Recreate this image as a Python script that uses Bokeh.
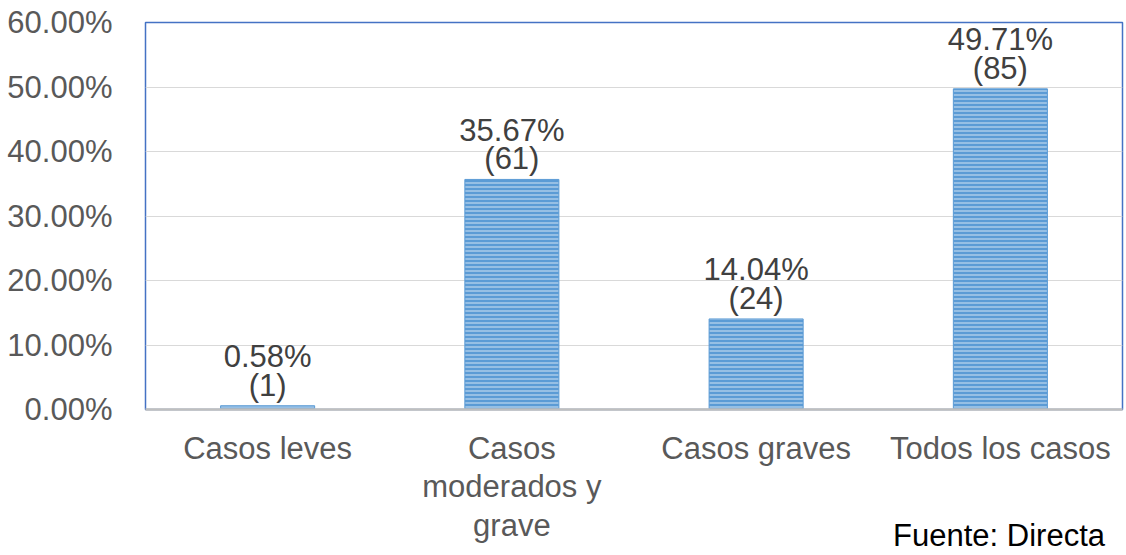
from bokeh.plotting import figure
from bokeh.models import ColumnDataSource, FixedTicker, NumeralTickFormatter, Div
from bokeh.layouts import column
from bokeh.embed import file_html
from bokeh.resources import INLINE
from bokeh.core.properties import value

categories = ["Casos leves", "Casos\nmoderados y\ngrave", "Casos graves", "Todos los casos"]
percentages = [0.0058, 0.3567, 0.1404, 0.4971]
counts = [1, 61, 24, 85]
y_ticks = [0.0, 0.1, 0.2, 0.3, 0.4, 0.5, 0.6]
source_note = "Fuente: Directa"

labels = [f"{p*100:.2f}%\n({c})" for p, c in zip(percentages, counts)]
src = ColumnDataSource(dict(cat=categories, val=percentages, lab=labels))

FONT = "Liberation Sans"
TXT = "#595959"
FS = "31px"

p = figure(x_range=categories, y_range=(0, 0.6), width=1126, height=555,
           output_backend="svg", toolbar_location=None,
           min_border_left=145, min_border_right=4, min_border_top=22, min_border_bottom=146)
p.outline_line_color = "#4472c4"
p.outline_line_width = 1.5
p.background_fill_color = "white"
p.border_fill_color = "white"

p.vbar(x="cat", top="val", width=0.385, source=src, fill_color="#5b9bd5",
       line_color="#5b9bd5", line_width=1,
       hatch_pattern="horizontal_line", hatch_color="white", hatch_alpha=0.6,
       hatch_scale=4, hatch_weight=1.2)

p.text(x="cat", y="val", text="lab", source=src, text_align="center", text_baseline="bottom",
       y_offset=-3, text_font=value(FONT), text_font_size=FS, text_color="#404040",
       text_line_height=0.82)

p.xgrid.grid_line_color = None
p.ygrid.grid_line_color = "#d9d9d9"
p.ygrid.grid_line_width = 1

p.yaxis.ticker = FixedTicker(ticks=y_ticks)
p.yaxis.formatter = NumeralTickFormatter(format="0.00%")
p.yaxis.axis_line_color = None
p.yaxis.major_tick_line_color = None
p.yaxis.minor_tick_line_color = None
p.yaxis.major_label_standoff = 27
p.yaxis.major_label_text_font = FONT
p.yaxis.major_label_text_font_size = FS
p.yaxis.major_label_text_color = TXT

p.xaxis.axis_line_color = "#bfbfbf"
p.xaxis.axis_line_width = 2.5
p.xaxis.major_tick_line_color = None
p.xaxis.minor_tick_line_color = None
p.xaxis.major_label_standoff = 15
p.xaxis.major_label_text_font = FONT
p.xaxis.major_label_text_font_size = FS
p.xaxis.major_label_text_color = TXT
p.xaxis.major_label_text_line_height = 1.1

note = Div(text=source_note, width=1126, height=36,
           styles={"margin-top": "-36px", "text-align": "right", "padding-right": "26px",
                   "font-family": FONT, "font-size": "31px", "color": "black",
                   "line-height": "34px", "box-sizing": "border-box"})

layout = column(p, note, spacing=0)
open("out.html", "w").write(file_html(layout, INLINE))
